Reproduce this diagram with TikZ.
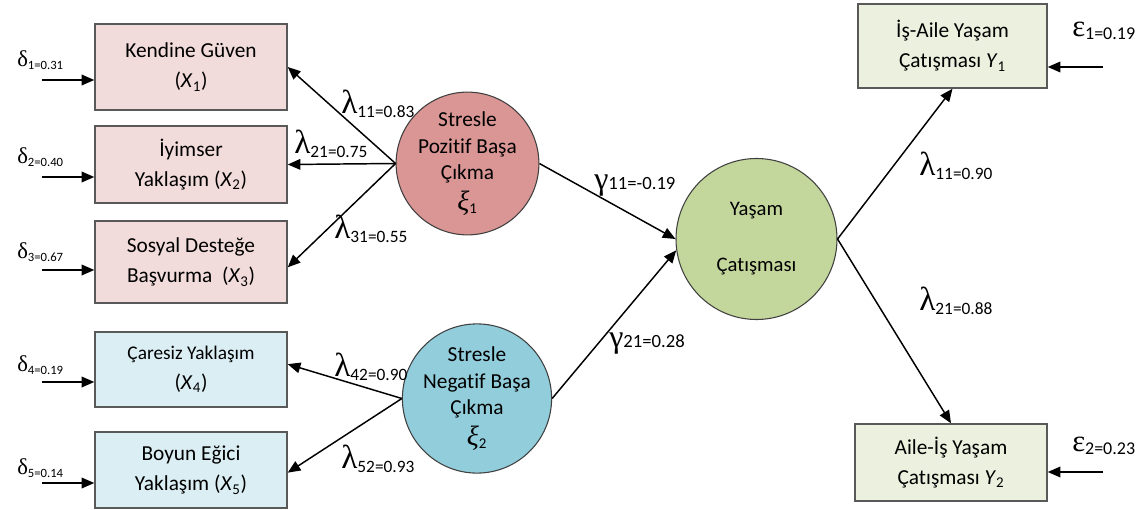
\documentclass[tikz,border=0pt]{standalone}
\usepackage{fontspec}
\setmainfont{Carlito}[Ligatures=NoCommon]
\newfontfamily\grk{Liberation Serif}
\usetikzlibrary{arrows.meta}

\definecolor{pinkbox}{RGB}{242,220,219}
\definecolor{pinkcirc}{RGB}{217,150,148}
\definecolor{bluebox}{RGB}{218,238,243}
\definecolor{bluecirc}{RGB}{146,205,220}
\definecolor{greenbox}{RGB}{235,241,222}
\definecolor{greencirc}{RGB}{195,214,155}

\newcommand{\lam}[1]{{\grk\fontsize{25}{25}\selectfont λ}{\fontsize{13}{13}\selectfont\raisebox{-3pt}{#1}}}
\newcommand{\gam}[1]{{\grk\fontsize{24}{24}\selectfont γ}{\fontsize{14}{14}\selectfont #1}}
\newcommand{\dlt}[1]{{\grk\fontsize{17}{17}\selectfont δ}{\fontsize{9.5}{9.5}\selectfont\raisebox{-2.5pt}{#1}}}
\newcommand{\epsl}[1]{{\grk\fontsize{23}{23}\selectfont ε}{\fontsize{13.5}{13.5}\selectfont\raisebox{-2.5pt}{#1}}}
\newcommand{\xv}[2]{\textit{#1}\textsubscript{#2}}
\newcommand{\xil}[1]{{\grk\itshape\fontsize{21}{20}\selectfont ξ}\textsubscript{#1}}

\tikzset{
  obsbox/.style={draw=black!65, line width=1.1pt, align=center, inner sep=0pt,
    font=\fontsize{16}{22.5}\selectfont},
  latent/.style={circle, draw=black!75, line width=0.8pt, align=center, inner sep=0pt,
    font=\fontsize{16}{20}\selectfont},
  path/.style={line width=1.1pt, -{Triangle[length=9.5pt,width=8pt]}},
  coef/.style={anchor=west, inner sep=0.75pt}
}

\begin{document}
\begin{tikzpicture}[x=0.75pt,y=0.75pt,yscale=-1,xscale=1]
    \useasboundingbox (0,0) rectangle (1143,510);

    %Shape: Rectangles, left side
    \node [obsbox, fill=pinkbox, minimum width=144pt, minimum height=64.5pt] (x1) at (191,67) {Kendine Güven\\(\xv{X}{1})};
    \node [obsbox, fill=pinkbox, minimum width=144pt, minimum height=57.75pt] (x2) at (191,164.5) {İyimser\\Yaklaşım (\xv{X}{2})};
    \node [obsbox, fill=pinkbox, minimum width=144pt, minimum height=61.5pt] (x3) at (191,262) {Sosyal Desteğe\\Başvurma~ (\xv{X}{3})};
    \node [obsbox, fill=bluebox, minimum width=144pt, minimum height=56.25pt] (x4) at (191,369.5) {{\fontsize{14.5}{22.5}\selectfont Çaresiz Yaklaşım}\\(\xv{X}{4})};
    \node [obsbox, fill=bluebox, minimum width=144pt, minimum height=57pt] (x5) at (191,470) {Boyun Eğici\\Yaklaşım (\xv{X}{5})};

    %Shape: Circles
    \node [latent, fill=pinkcirc, minimum size=100.5pt] (xi1) at (467.5,163.5) {Stresle\\Pozitif Başa\\Çıkma\\[3pt]\xil{1}};
    \node [latent, fill=bluecirc, minimum size=103.5pt] (xi2) at (477,398.5) {Stresle\\Negatif Başa\\Çıkma\\[3pt]\xil{2}};
    \node [latent, fill=greencirc, minimum size=120.75pt, font=\fontsize{15.5}{28}\selectfont] (eta) at (756.5,239) {Yaşam\\[0pt]\\[-14pt]Çatışması};

    %Shape: Rectangles, right side
    \node [obsbox, fill=greenbox, minimum width=141.75pt, minimum height=63pt] (y1) at (952.5,46) {İş-Aile Yaşam\\Çatışması \xv{Y}{1}};
    \node [obsbox, fill=greenbox, minimum width=144pt, minimum height=57.75pt] (y2) at (951,462.5) {Aile-İş Yaşam\\Çatışması \xv{Y}{2}};

    %Free ends of error arrows
    \coordinate (d1) at (42,80);
    \coordinate (d2) at (42,177);
    \coordinate (d3) at (42,270);
    \coordinate (d4) at (42,382);
    \coordinate (d5) at (42,483);
    \coordinate (e1) at (1103,67);
    \coordinate (e2) at (1103,472);

    %Lines
    \draw [path] (d1) -- (d1 -| x1.west);
    \draw [path] (d2) -- (d2 -| x2.west);
    \draw [path] (d3) -- (d3 -| x3.west);
    \draw [path] (d4) -- (d4 -| x4.west);
    \draw [path] (d5) -- (d5 -| x5.west);
    \draw [path] (e1) -- (e1 -| y1.east);
    \draw [path] (e2) -- (e2 -| y2.east);

    \draw [path] (xi1.west) -- (x1.east);
    \draw [path] (xi1.west) -- (x2.east);
    \draw [path] (xi1.west) -- ([yshift=4pt]x3.east);
    \draw [path] (xi2.west) -- ([yshift=-4pt]x4.east);
    \draw [path] (xi2.west) -- ([yshift=2pt]x5.east);
    \draw [path] (xi1.east) -- (eta.west);
    \draw [path] (xi2.east) -- (eta.188);
    \draw [path] (eta.east) -- (y1.south);
    \draw [path] (eta.east) -- (y2.north);

    % Text Node
    \node [coef] (dl1) at (16,60) {\dlt{1=0.31}};
    \node [coef] (dl2) at (16,157) {\dlt{2=0.40}};
    \node [coef] (dl3) at (16,252) {\dlt{3=0.67}};
    \node [coef] (dl4) at (16,365) {\dlt{4=0.19}};
    \node [coef] (dl5) at (16,468) {\dlt{5=0.14}};
    % Text Node
    \node [coef] (ep1) at (1071,31) {\epsl{1=0.19}};
    \node [coef] (ep2) at (1071,446) {\epsl{2=0.23}};
    % Text Node
    \node [coef] (l11) at (340,104) {\lam{11=0.83}};
    \node [coef] (l21) at (293,144) {\lam{21=0.75}};
    \node [coef] (l31) at (333,229) {\lam{31=0.55}};
    \node [coef] (l42) at (333,367) {\lam{42=0.90}};
    \node [coef] (l52) at (340,459) {\lam{52=0.93}};
    % Text Node
    \node [coef] (g11) at (593,186) {\gam{11=-0.19}};
    \node [coef] (g21) at (608,344) {\gam{21=0.28}};
    % Text Node
    \node [coef] (ly1) at (918,166) {\lam{11=0.90}};
    \node [coef] (ly2) at (918,301) {\lam{21=0.88}};

\end{tikzpicture}
\end{document}
